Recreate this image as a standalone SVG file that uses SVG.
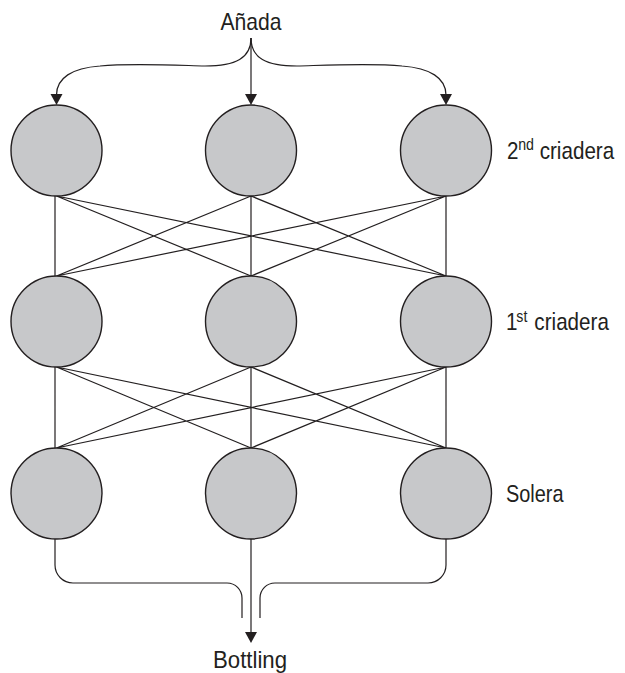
<svg xmlns="http://www.w3.org/2000/svg" width="625" height="673" viewBox="0 0 625 673">
  <style>
    .cask { fill: #c7c8ca; stroke: #231f20; stroke-width: 1.4; }
    .link { fill: none; stroke: #231f20; stroke-width: 1.2; }
    .head { fill: #231f20; stroke: none; }
    .lbl { font-family: "Liberation Sans", Arial, sans-serif; font-size: 24px; fill: #231f20; }
    .sup { font-size: 16.5px; }
  </style>

  <!-- connectors -->
  <g id="connectors">
    <!-- from Añada into the 2nd criadera row -->
    <path class="link" d="M251,38 V95"/>
    <path class="link" d="M251,38 C251,58 236,66 205,66 C170,65 130,63 100,66 C72,68 56.5,78 56.5,95"/>
    <path class="link" d="M251,38 C251,58 266,66 297,66 C332,65 372,63 402,66 C430,68 446,78 446,95"/>
    <polygon class="head" points="245,94 257,94 251,105"/>
    <polygon class="head" points="50.5,94 62.5,94 56.5,105"/>
    <polygon class="head" points="440,94 452,94 446,105"/>

    <!-- 2nd criadera to 1st criadera -->
    <path class="link" d="M55,196 V276 M56.5,196 L251,276 M56.5,196 L446,276
                          M251,196 V276 M251,196 L56.5,276 M251,196 L446,276
                          M446,196 V276 M446,196 L56.5,276 M446,196 L251,276"/>

    <!-- 1st criadera to solera -->
    <path class="link" d="M55,367 V448 M56.5,367 L251,448 M56.5,367 L446,448
                          M251,367 V448 M251,367 L56.5,448 M251,367 L446,448
                          M446,367 V448 M446,367 L56.5,448 M446,367 L251,448"/>

    <!-- solera to bottling -->
    <path class="link" d="M55,539 V565 A18,18 0 0 0 73,583 H227 A15,15 0 0 1 242,598 V618"/>
    <path class="link" d="M446,539 V565 A18,18 0 0 1 428,583 H275 A15,15 0 0 0 260,598 V618"/>
    <path class="link" d="M251,539 V633"/>
    <polygon class="head" points="245,632 257,632 251,643"/>
  </g>

  <!-- 2nd criadera row -->
  <g id="c2-left"><circle class="cask" cx="56.5" cy="150.5" r="45.5"/></g>
  <g id="c2-mid"><circle class="cask" cx="251" cy="150.5" r="45.5"/></g>
  <g id="c2-right"><circle class="cask" cx="446" cy="150.5" r="45.5"/></g>

  <!-- 1st criadera row -->
  <g id="c1-left"><circle class="cask" cx="56.5" cy="321.5" r="45.5"/></g>
  <g id="c1-mid"><circle class="cask" cx="251" cy="321.5" r="45.5"/></g>
  <g id="c1-right"><circle class="cask" cx="446" cy="321.5" r="45.5"/></g>

  <!-- solera row -->
  <g id="s-left"><circle class="cask" cx="56.5" cy="493.5" r="45.5"/></g>
  <g id="s-mid"><circle class="cask" cx="251" cy="493.5" r="45.5"/></g>
  <g id="s-right"><circle class="cask" cx="446" cy="493.5" r="45.5"/></g>

  <!-- labels (condensed by a horizontal scale) -->
  <g id="anada">
    <text class="lbl" x="251" y="30" text-anchor="middle" textLength="61" lengthAdjust="spacingAndGlyphs">Añada</text>
  </g>
  <g id="bottling">
    <text class="lbl" x="250" y="668" text-anchor="middle" textLength="74" lengthAdjust="spacingAndGlyphs">Bottling</text>
  </g>
  <g id="row-2nd" transform="translate(507,158.5) scale(0.86,1)">
    <text class="lbl" x="0" y="0">2<tspan class="sup" x="13" dy="-8.5">nd</tspan><tspan x="38" dy="8.5">criadera</tspan></text>
  </g>
  <g id="row-1st" transform="translate(506,330) scale(0.86,1)">
    <text class="lbl" x="0" y="0">1<tspan class="sup" x="12" dy="-8.5">st</tspan><tspan x="33" dy="8.5">criadera</tspan></text>
  </g>
  <g id="row-solera" transform="translate(506,501.5) scale(0.83,1)">
    <text class="lbl" x="0" y="0">Solera</text>
  </g>
</svg>
